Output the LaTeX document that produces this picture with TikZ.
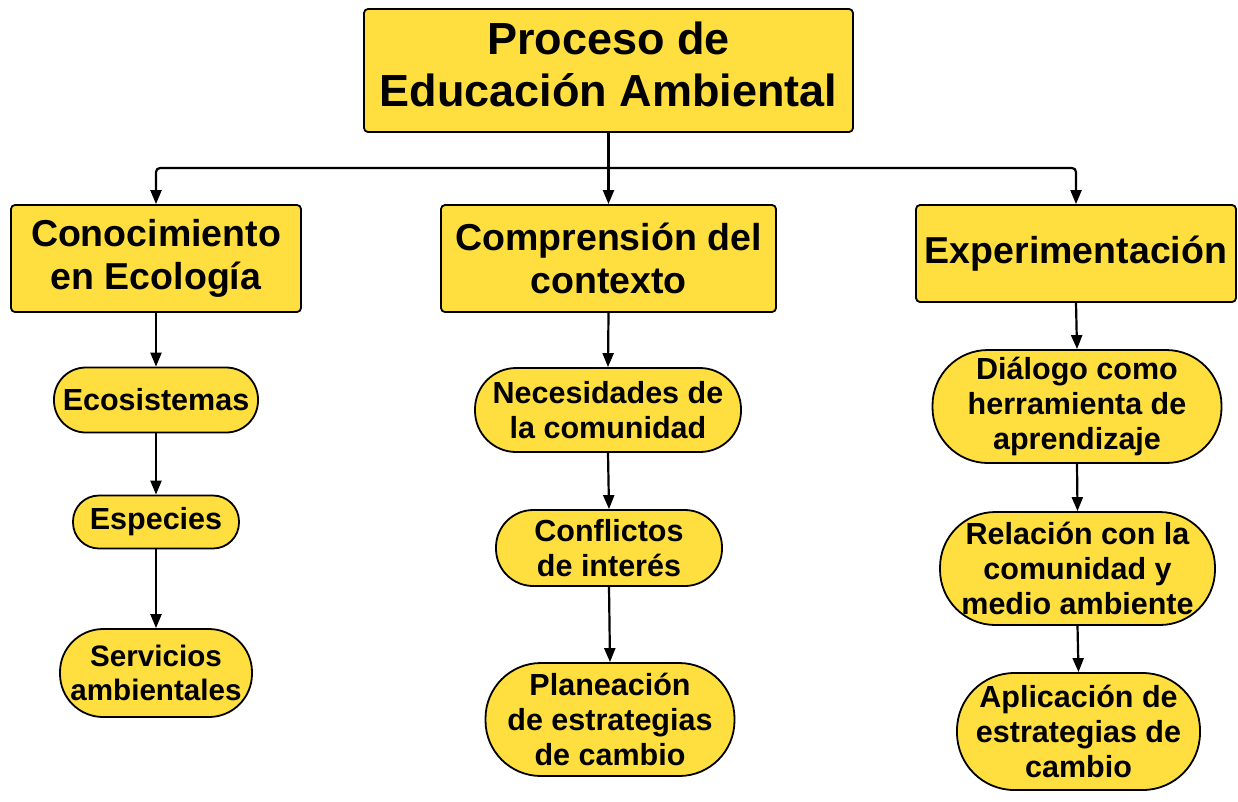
\documentclass[tikz,border=0pt]{standalone}
\usepackage{fontspec}
\setmainfont{Liberation Sans}
\usetikzlibrary{arrows.meta}
\definecolor{boxyellow}{HTML}{FFDF40}
\begin{document}
\begin{tikzpicture}[x=1pt,y=-1pt,
  base/.style={draw=black,line width=1.8pt,fill=boxyellow,align=center,inner sep=0pt,font=\bfseries},
  topbox/.style={base,rounded corners=4pt,font=\bfseries\fontsize{45}{52}\selectfont},
  midbox/.style={base,rounded corners=4pt,font=\bfseries\fontsize{37.5}{43}\selectfont},
  leaf/.style 2 args={base,minimum width=#1,minimum height=#2,rounded corners=0.49*#2,font=\bfseries\fontsize{30.5}{35}\selectfont},
  arr/.style={line width=2.2pt,-{Triangle[length=14pt,width=11pt]}},
  ln/.style={line width=2.2pt}]
\useasboundingbox (0,0) rectangle (1238,801);
\node[topbox,minimum width=489pt,minimum height=123pt] (title) at (608.5,70.5) {Proceso de\\Educación Ambiental\\[-40pt]\mbox{}};
\node[midbox,minimum width=290pt,minimum height=107pt] (c1) at (156,258.5) {Conocimiento\\en Ecología};
\node[midbox,minimum width=335pt,minimum height=107pt] (c2) at (608.5,258.5) {Comprensión del\\contexto};
\node[midbox,minimum width=320pt,minimum height=97pt] (c3) at (1076,253.5) {Experimentación};
\node[leaf={204pt}{65pt}] (a1) at (156,400) {Ecosistemas};
\node[leaf={166pt}{53pt}] (a2) at (156,522) {Especies};
\node[leaf={192pt}{88pt},font=\bfseries\fontsize{29.6}{34}\selectfont] (a3) at (156,673) {Servicios\\ambientales};
\node[leaf={266pt}{84pt}] (b1) at (608,410) {Necesidades de\\la comunidad};
\node[leaf={226pt}{76pt}] (b2) at (609,548) {Conflictos\\de interés};
\node[leaf={249pt}{113pt}] (b3) at (610,719.5) {Planeación\\de estrategias\\de cambio};
\node[leaf={289pt}{113pt}] (d1) at (1077,406.5) {Diálogo como\\herramienta de\\aprendizaje};
\node[leaf={275pt}{113pt}] (d2) at (1077.5,568.5) {Relación con la\\comunidad y\\medio ambiente};
\node[leaf={243pt}{117pt}] (d3) at (1078.5,731.5) {Aplicación de\\estrategias de\\cambio};
\coordinate (split) at (608.5,168);
\draw[ln] (title.south) -- (split);
\draw[arr,rounded corners=4pt] (split) -| (c1.north);
\draw[arr,rounded corners=4pt] (split) -| (c3.north);
\draw[arr] (split) -- (c2.north);
\draw[arr] (c1.south) -- (a1.north);
\draw[arr] (a1.south) -- (a2.north);
\draw[arr] (a2.south) -- (a3.north);
\draw[arr] (c2.south) -- (b1.north);
\draw[arr] (b1.south) -- (b2.north);
\draw[arr] (b2.south) -- (b3.north);
\draw[arr] (c3.south) -- (d1.north);
\draw[arr] (d1.south) -- (d2.north);
\draw[arr] (d2.south) -- (d3.north);
\end{tikzpicture}
\end{document}
